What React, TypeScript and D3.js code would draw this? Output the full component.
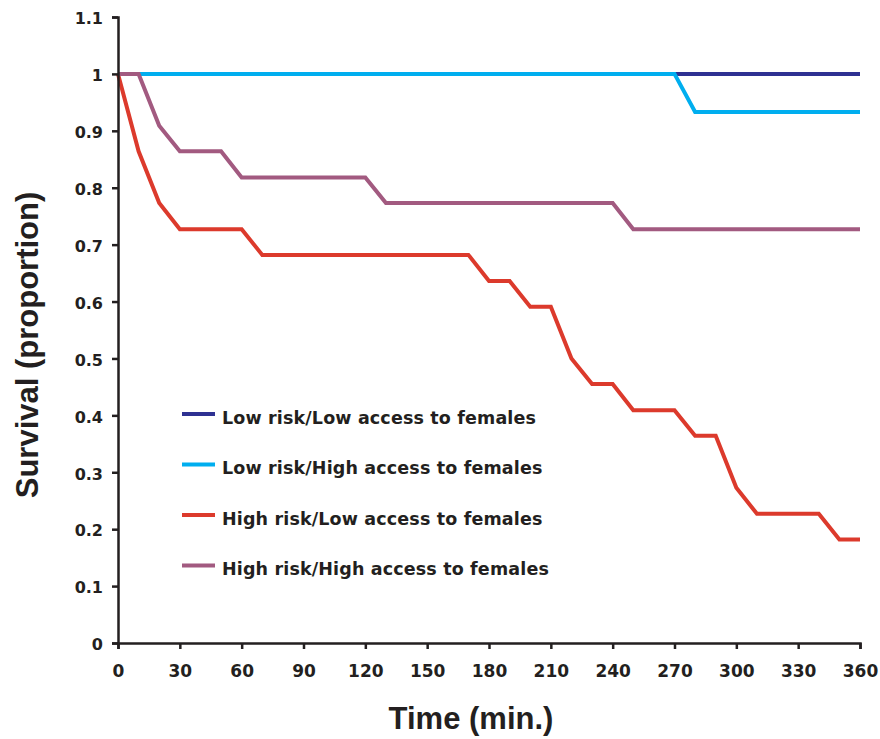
import { useEffect, useRef } from 'react';
import * as d3 from 'd3';

// survival curves (time in minutes)
const seriesNames = [
  'Low risk/Low access to females',
  'Low risk/High access to females',
  'High risk/Low access to females',
  'High risk/High access to females',
];
const seriesColors = ['#2e3192', '#00aeef', '#dc3a2c', '#a25a80'];

const lowLowTime = [0, 360];
const lowLowSurv = [1, 1];

const lowHighTime = [0, 270, 280, 360];
const lowHighSurv = [1, 1, 0.933, 0.933];

const highLowTime = [0, 10, 20, 30, 60, 70, 170, 180, 190, 200, 210, 220, 230, 240, 250, 270, 280, 290, 300, 310, 340, 350, 360];
const highLowSurv = [1, 0.864, 0.773, 0.727, 0.727, 0.682, 0.682, 0.636, 0.636, 0.591, 0.591, 0.5, 0.455, 0.455, 0.409, 0.409, 0.364, 0.364, 0.273, 0.227, 0.227, 0.182, 0.182];

const highHighTime = [0, 10, 20, 30, 50, 60, 120, 130, 240, 250, 360];
const highHighSurv = [1, 1, 0.909, 0.864, 0.864, 0.818, 0.818, 0.773, 0.773, 0.727, 0.727];

const xTicks = [0, 30, 60, 90, 120, 150, 180, 210, 240, 270, 300, 330, 360];
const yTicks = [0, 0.1, 0.2, 0.3, 0.4, 0.5, 0.6, 0.7, 0.8, 0.9, 1, 1.1];

const App = () => {
  const svgRef = useRef<SVGSVGElement>(null);

  useEffect(() => {
    const width = 880;
    const height = 739;
    const margin = { top: 17, right: 20, bottom: 96, left: 118 };
    const axisColor = '#231f20';
    const tickFont = '"DejaVu Sans", Verdana, sans-serif';
    const titleFont = '"Liberation Sans", Arial, Helvetica, sans-serif';

    const svg = d3.select(svgRef.current);
    svg.selectAll('*').remove();
    svg.attr('width', width).attr('height', height);

    const x = d3.scaleLinear().domain([0, 360]).range([margin.left, width - margin.right]);
    const y = d3.scaleLinear().domain([0, 1.1]).range([height - margin.bottom, margin.top]);

    // Curves
    const series = [
      { time: lowLowTime, surv: lowLowSurv },
      { time: lowHighTime, surv: lowHighSurv },
      { time: highLowTime, surv: highLowSurv },
      { time: highHighTime, surv: highHighSurv },
    ];
    const line = d3.line<[number, number]>()
      .x(d => x(d[0]))
      .y(d => y(d[1]));

    series.forEach((s, i) => {
      const pts = s.time.map((t, j) => [t, s.surv[j]] as [number, number]);
      svg.append('path')
        .datum(pts)
        .attr('d', line)
        .attr('fill', 'none')
        .attr('stroke', seriesColors[i])
        .attr('stroke-width', 4)
        .attr('stroke-linejoin', 'miter');
    });

    // Y axis
    const yAxis = svg.append('g')
      .attr('transform', `translate(${margin.left},0)`)
      .call(d3.axisLeft(y).tickValues(yTicks).tickSize(6).tickPadding(9)
        .tickFormat(d => d3.format('')(+(+d).toFixed(1))));
    yAxis.select('.domain').attr('stroke', axisColor).attr('stroke-width', 2.5);
    yAxis.selectAll('.tick line').attr('stroke', axisColor).attr('stroke-width', 2.5);
    yAxis.selectAll('.tick text')
      .attr('fill', axisColor)
      .attr('dy', '0.42em')
      .style('font-family', tickFont)
      .style('font-weight', 'bold')
      .style('font-size', '16px');

    // X axis
    const xAxis = svg.append('g')
      .attr('transform', `translate(0,${height - margin.bottom})`)
      .call(d3.axisBottom(x).tickValues(xTicks).tickSize(6).tickPadding(16));
    xAxis.select('.domain').attr('stroke', axisColor).attr('stroke-width', 2.5);
    xAxis.selectAll('.tick line').attr('stroke', axisColor).attr('stroke-width', 2.5);
    xAxis.selectAll('.tick text')
      .attr('fill', axisColor)
      .style('font-family', tickFont)
      .style('font-weight', 'bold')
      .style('font-size', '17px');

    // Axis titles
    svg.append('text')
      .attr('x', 471)
      .attr('y', 729)
      .attr('text-anchor', 'middle')
      .attr('fill', axisColor)
      .style('font-family', titleFont)
      .style('font-weight', 'bold')
      .style('font-size', '31px')
      .text('Time (min.)');

    svg.append('text')
      .attr('transform', 'translate(38,345) rotate(-90)')
      .attr('text-anchor', 'middle')
      .attr('fill', axisColor)
      .style('font-family', titleFont)
      .style('font-weight', 'bold')
      .style('font-size', '31px')
      .text('Survival (proportion)');

    // Legend
    const legend = svg.append('g').attr('transform', 'translate(182,414)');
    seriesNames.forEach((name, i) => {
      const row = legend.append('g').attr('transform', `translate(0,${i * 50.5})`);
      row.append('line')
        .attr('x1', 0).attr('x2', 33)
        .attr('y1', 0).attr('y2', 0)
        .attr('stroke', seriesColors[i])
        .attr('stroke-width', 4);
      row.append('text')
        .attr('x', 40)
        .attr('y', 9.5)
        .attr('fill', axisColor)
        .style('font-family', tickFont)
        .style('font-weight', 'bold')
        .style('font-size', '17.5px')
        .style('letter-spacing', '0.15px')
        .text(name);
    });
  }, []);

  return (
    <div style={{ position: 'absolute', left: 0, top: 0, background: '#fff' }}>
      <svg ref={svgRef} style={{ display: 'block' }}></svg>
    </div>
  );
};

export default App;
